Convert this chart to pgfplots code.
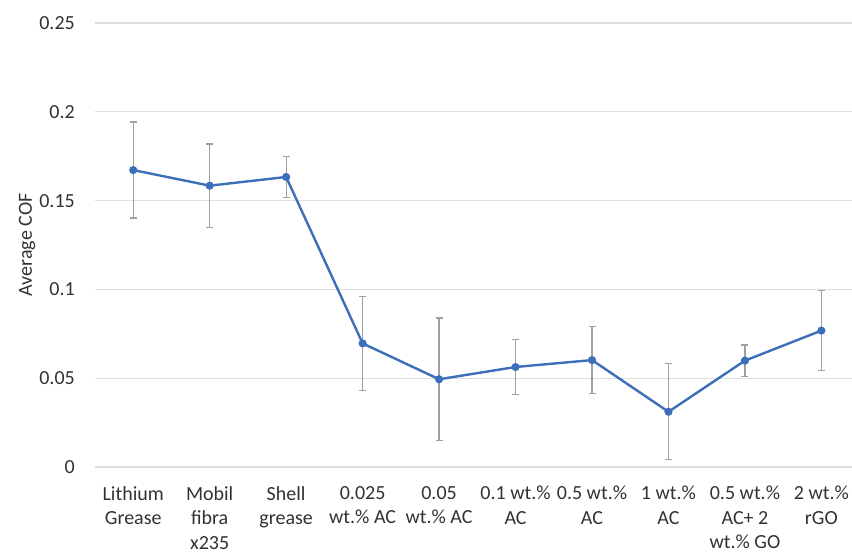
\documentclass[border=0pt]{standalone}
\usepackage{fontspec}
\setmainfont{Carlito}
\usepackage{pgfplots}
\pgfplotsset{compat=1.18}
\definecolor{cofblue}{RGB}{60,110,185}
\definecolor{gridgray}{RGB}{222,222,222}
\definecolor{errgray}{RGB}{160,160,160}
\definecolor{txt}{RGB}{50,50,50}
\begin{document}
\begin{tikzpicture}
\useasboundingbox (0,0) rectangle (852pt,554pt);
\begin{axis}[
  at={(95pt,87pt)}, anchor=south west,
  scale only axis, width=757pt, height=444pt,
  xmin=-0.5, xmax=9.4, ymin=0, ymax=0.25,
  axis line style={draw=none},
  major tick length=0pt,
  ymajorgrids, grid style={gridgray, line width=1.2pt},
  ytick={0,0.05,0.1,0.15,0.2,0.25},
  yticklabels={0,0.05,0.1,0.15,0.2,0.25},
  xtick={0,1,2,3,4,5,6,7,8,9},
  xticklabels={Lithium\\Grease, Mobil\\fibra\\x235, Shell\\grease, 0.025\\wt.\% AC, 0.05\\wt.\% AC, 0.1 wt.\%\\AC, 0.5 wt.\%\\AC, 1 wt.\%\\AC, 0.5 wt.\%\\AC+ 2\\wt.\% GO, 2 wt.\%\\rGO},
  tick label style={font=\fontsize{20}{24.5}\selectfont, text=txt},
  yticklabel style={anchor=east, inner sep=0pt, xshift=-20pt},
  xticklabel style={anchor=north, align=center, inner sep=0pt, yshift=-19pt},
  ylabel={Average COF},
  every axis y label/.style={at={(axis description cs:-0.0898,0.5)}, anchor=center, rotate=90, font=\fontsize{20}{24}\selectfont, text=txt},
  clip=false,
]
\addplot[cofblue, line width=2.4pt, mark=*, mark size=2.8pt, mark options={fill=cofblue, draw=cofblue},
  error bars/.cd, y dir=both, y explicit,
  error bar style={errgray, line width=1.2pt},
  error mark options={rotate=90, mark size=3.5pt, errgray, line width=1.2pt}]
  table[x=x, y=y, y error=e] {
x y e
0 0.1672 0.0270
1 0.1584 0.0235
2 0.1633 0.0117
3 0.0696 0.0265
4 0.0494 0.0345
5 0.0563 0.0157
6 0.0602 0.0190
7 0.0311 0.0270
8 0.0599 0.0088
9 0.0768 0.0226
};
\end{axis}
\end{tikzpicture}
\end{document}
